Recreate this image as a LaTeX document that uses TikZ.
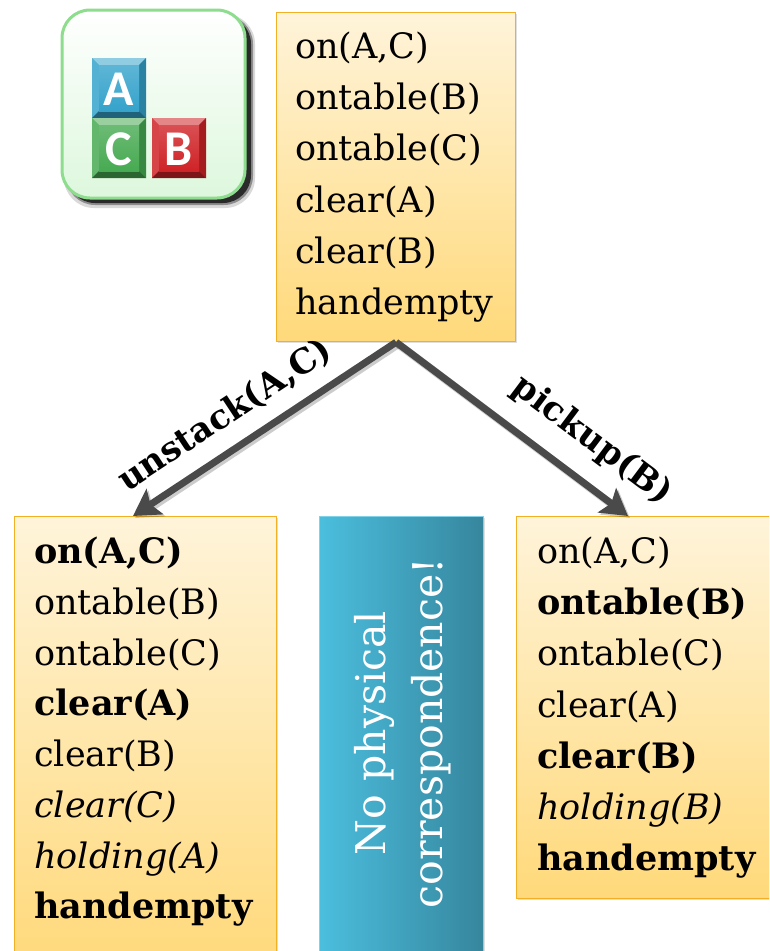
\documentclass[tikz,border=0pt]{standalone}
\usepackage{fontspec}
\setmainfont{DejaVu Serif}
\newfontfamily\blockfont{Carlito}
\usetikzlibrary{arrows.meta,shadows}

\definecolor{boxtop}{HTML}{FFF4DA}
\definecolor{boxbot}{HTML}{FFD97A}
\definecolor{boxline}{HTML}{F2B124}
\definecolor{tealL}{HTML}{4BBEDE}
\definecolor{tealR}{HTML}{36869D}
\definecolor{arrowgray}{HTML}{4A4A4A}
\definecolor{iconrim}{HTML}{8EDC8E}
\definecolor{iconbot}{HTML}{DDF7DD}
\definecolor{cubeA}{HTML}{35A3CB}
\definecolor{cubeC}{HTML}{47AA52}
\definecolor{cubeB}{HTML}{CF2327}

\tikzset{
  statebox/.style={draw=boxline, line width=1.2pt, top color=boxtop, bottom color=boxbot,
    anchor=north west, inner sep=0pt,
    drop shadow={shadow xshift=1.5pt, shadow yshift=-1.5pt, opacity=0.25}},
  notebox/.style={draw=tealL!70!white, line width=0.8pt, left color=tealL, right color=tealR,
    anchor=north west, inner sep=0pt,
    drop shadow={shadow xshift=1.5pt, shadow yshift=-1.5pt, opacity=0.25}},
  fact/.style={anchor=base west, inner sep=0pt, font=\fontsize{35}{42}\selectfont},
  actarrow/.style={draw=arrowgray, line width=7pt,
    -{Stealth[length=26pt,width=30pt,inset=5pt]},
    preaction={draw=black, opacity=0.2, line width=8pt,
      transform canvas={shift={(2pt,-2pt)}}}},
  actlabel/.style={font=\fontsize{34}{40}\selectfont\bfseries, sloped, inner sep=0pt},
  cubeletter/.style={text=white, inner sep=0pt,
    font=\blockfont\bfseries\fontsize{50}{50}\selectfont},
}

% one bevelled toy block: #1,#2 top-left corner, #3 colour, #4 node name, #5 letter
\newcommand{\abcblock}[5]{%
  \fill[#3] (#1,#2) rectangle ++(54,60);
  \fill[#3!55!white] (#1,#2) -- ++(54,0) -- ++(-7,7) -- ++(-40,0) -- cycle;
  \fill[#3!85!white] (#1,#2) -- ++(7,7) -- ++(0,46) -- ++(-7,7) -- cycle;
  \fill[#3!80!black] (#1+54,#2) -- ++(-7,7) -- ++(0,46) -- ++(7,7) -- cycle;
  \fill[#3!60!black] (#1,#2+60) -- ++(7,-7) -- ++(40,0) -- ++(7,7) -- cycle;
  \shade[top color=#3!80!white, bottom color=#3] (#1+7,#2+7) rectangle ++(40,46);
  \node[cubeletter] (#4) at (#1+27,#2+31) {#5};
}

\begin{document}
\begin{tikzpicture}[x=1pt,y=-1pt]
\useasboundingbox (0,0) rectangle (769,951);
\clip (0,0) rectangle (769,951);

% blocks-world icon with its dark drop shadow
\fill[black, opacity=0.15, rounded corners=30pt] (64,14) rectangle (255,208);
\fill[black, opacity=0.35, rounded corners=29pt] (66,15) rectangle (253,205);
\fill[black, opacity=0.7, rounded corners=28pt] (67,16) rectangle (251,203);
\draw[draw=iconrim, line width=3pt, rounded corners=28pt, top color=white, bottom color=iconbot]
  (62,10) rectangle (245,198);
\abcblock{92}{58}{cubeA}{la}{A}
\abcblock{92}{118}{cubeC}{lc}{C}
\abcblock{152}{118}{cubeB}{lb}{B}

% initial state
\node[statebox, minimum width=239pt, minimum height=329pt] (s0) at (276,12) {};
\node[fact] (s0a) at (295,58)  {on(A,C)};
\node[fact] (s0b) at (295,109) {ontable(B)};
\node[fact] (s0c) at (295,160) {ontable(C)};
\node[fact] (s0d) at (295,212) {clear(A)};
\node[fact] (s0e) at (295,263) {clear(B)};
\node[fact] (s0f) at (295,314) {handempty};

% state after unstack(A,C)
\node[statebox, minimum width=262pt, minimum height=450pt] (s1) at (14,516) {};
\node[fact] (s1a) at (34,563) {\bfseries on(A,C)};
\node[fact] (s1b) at (34,614) {ontable(B)};
\node[fact] (s1c) at (34,665) {ontable(C)};
\node[fact] (s1d) at (34,715) {\bfseries clear(A)};
\node[fact] (s1e) at (34,766) {clear(B)};
\node[fact] (s1f) at (34,817) {\itshape clear(C)};
\node[fact] (s1g) at (34,868) {\itshape holding(A)};
\node[fact] (s1h) at (34,918) {\bfseries handempty};

% state after pickup(B)
\node[statebox, minimum width=270pt, minimum height=382pt] (s2) at (516,516) {};
\node[fact] (s2a) at (537,563) {on(A,C)};
\node[fact] (s2b) at (537,614) {\bfseries ontable(B)};
\node[fact] (s2c) at (537,665) {ontable(C)};
\node[fact] (s2d) at (537,717) {clear(A)};
\node[fact] (s2e) at (537,768) {\bfseries clear(B)};
\node[fact] (s2f) at (537,819) {\itshape holding(B)};
\node[fact] (s2g) at (537,870) {\bfseries handempty};

% remark between the two successor states
\node[notebox, minimum width=164pt, minimum height=450pt] (nb) at (319,516) {};
\node[rotate=90, align=center, text=white, inner sep=0pt,
      font=\fontsize{41}{57}\selectfont] (note) at (403,733) {No physical\\correspondence!};

% actions
\coordinate (ltip) at (133,516);
\coordinate (rtip) at (628,516);
\draw[actarrow] (s0.south) -- node[actlabel, pos=0.58, above=14pt] (lu) {unstack(A,C)} (ltip);
\draw[actarrow] (s0.south) -- node[actlabel, pos=0.745, above=19pt] (lp) {pickup(B)} (rtip);
\end{tikzpicture}
\end{document}
